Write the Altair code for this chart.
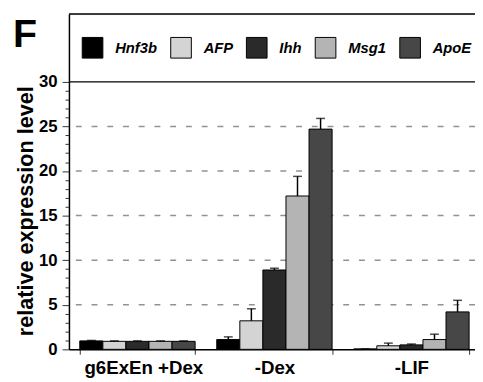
import altair as alt
import pandas as pd

groups = ["g6ExEn +Dex", "-Dex", "-LIF"]
genes = ["Hnf3b", "AFP", "Ihh", "Msg1", "ApoE"]
colors = ["#000000", "#d4d4d4", "#2a2a2a", "#b4b4b4", "#474747"]

vals_g6 = [0.95, 0.9, 0.9, 0.9, 0.9]
errs_g6 = [0.05, 0.05, 0.05, 0.05, 0.05]
vals_dex = [1.1, 3.2, 8.9, 17.2, 24.7]
errs_dex = [0.3, 1.35, 0.2, 2.2, 1.2]
vals_lif = [0.05, 0.4, 0.5, 1.1, 4.2]
errs_lif = [0.0, 0.3, 0.1, 0.6, 1.3]

grid_vals = [5, 10, 15, 20, 25]
line30 = [30]
y_top = 37.6
y_ticks = list(range(0, 31))

rows = []
for g, vs, es in [(groups[0], vals_g6, errs_g6), (groups[1], vals_dex, errs_dex), (groups[2], vals_lif, errs_lif)]:
    for gene, v, e in zip(genes, vs, es):
        rows.append({"group": g, "gene": gene, "value": v, "top": v + e})
df = pd.DataFrame(rows)

FONT = "Liberation Sans"

yaxis = alt.Axis(
    values=y_ticks,
    title="relative expression level",
    titleFont=FONT, titleFontSize=22, titleFontWeight="bold", titleColor="black",
    titleX=-37, titleY=200, titleAngle=-90, titleBaseline="alphabetic", titleAlign="center",
    labelFont=FONT, labelFontSize=17, labelFontWeight="bold", labelColor="black",
    labelExpr="datum.value % 5 === 0 ? datum.label : ''",
    labelOverlap=False, labelFlush=False, labelBound=False, labelPadding=5,
    tickSize={"condition": {"test": "datum.value % 5 === 0", "value": 7}, "value": 4},
    tickColor="#333333", tickWidth=1,
    domainColor="black", domainWidth=1.5, grid=False,
)

yscale = alt.Scale(domain=[0, y_top], nice=False, zero=True)


def yenc(field):
    return alt.Y(field, scale=yscale, axis=yaxis)


grid = alt.Chart(pd.DataFrame({"value": grid_vals})).mark_rule(
    color="#929292", strokeWidth=1.5, strokeDash=[6, 10]
).encode(y=yenc("value:Q"))

l30 = alt.Chart(pd.DataFrame({"value": line30})).mark_rule(
    color="black", strokeWidth=1.5
).encode(y=yenc("value:Q"))

ltop = alt.Chart(pd.DataFrame({"value": [y_top]})).mark_rule(
    color="black", strokeWidth=1.5
).encode(y=yenc("value:Q"))

xaxis = alt.Axis(
    title=None, labelAngle=0,
    labelFont=FONT, labelFontSize=19, labelFontWeight="bold", labelColor="black",
    labelPadding=5,
    labelOffset={"condition": {"test": "datum.value === 'g6ExEn +Dex'", "value": 6}, "value": 0},
    tickBand="extent", tickSize=5, tickColor="#333333",
    domainColor="black", domainWidth=1.5,
)
xscale = alt.Scale(range=[0, 418], paddingInner=0.158, paddingOuter=0.079)


def xenc():
    return alt.X("group:N", sort=groups, scale=xscale, axis=xaxis)


def xoff():
    return alt.XOffset("gene:N", sort=genes, scale=alt.Scale(paddingInner=0, paddingOuter=0))


bars = alt.Chart(df).mark_bar(stroke="black", strokeWidth=1).encode(
    x=xenc(),
    xOffset=xoff(),
    y=yenc("value:Q"),
    fill=alt.Fill(
        "gene:N", sort=genes,
        scale=alt.Scale(domain=genes, range=colors),
        legend=alt.Legend(
            orient="none", legendX=13, legendY=23, direction="horizontal", title=None,
            symbolType="square", symbolSize=441, symbolStrokeColor="black", symbolStrokeWidth=1,
            symbolOpacity=1,
            labelFont=FONT, labelFontSize=15, labelFontStyle="italic", labelFontWeight="bold",
            labelColor="black", labelOffset=12, columnPadding=11, padding=0,
        ),
    ),
)

err = alt.Chart(df).mark_rule(color="black", strokeWidth=1.5).encode(
    x=xenc(),
    xOffset=xoff(),
    y=yenc("value:Q"),
    y2="top:Q",
)

cap = alt.Chart(df).mark_tick(color="black", size=9, thickness=1.5).encode(
    x=xenc(),
    xOffset=xoff(),
    y=yenc("top:Q"),
)

chart = alt.layer(grid, l30, ltop, bars, err, cap).properties(
    width=413, height=341,
    autosize=alt.AutoSizeParams(type="none"),
    padding={"left": 62, "top": 3, "right": 0, "bottom": 30},
    title=alt.TitleParams(
        text="F", anchor="start", frame="group", orient="top",
        dx=-57, dy=46, font=FONT, fontSize=40, fontWeight="bold", color="black",
    ),
).configure_view(stroke=None).configure(background="white")

chart.save("out.html", embed_options={"renderer": "svg", "actions": False})
